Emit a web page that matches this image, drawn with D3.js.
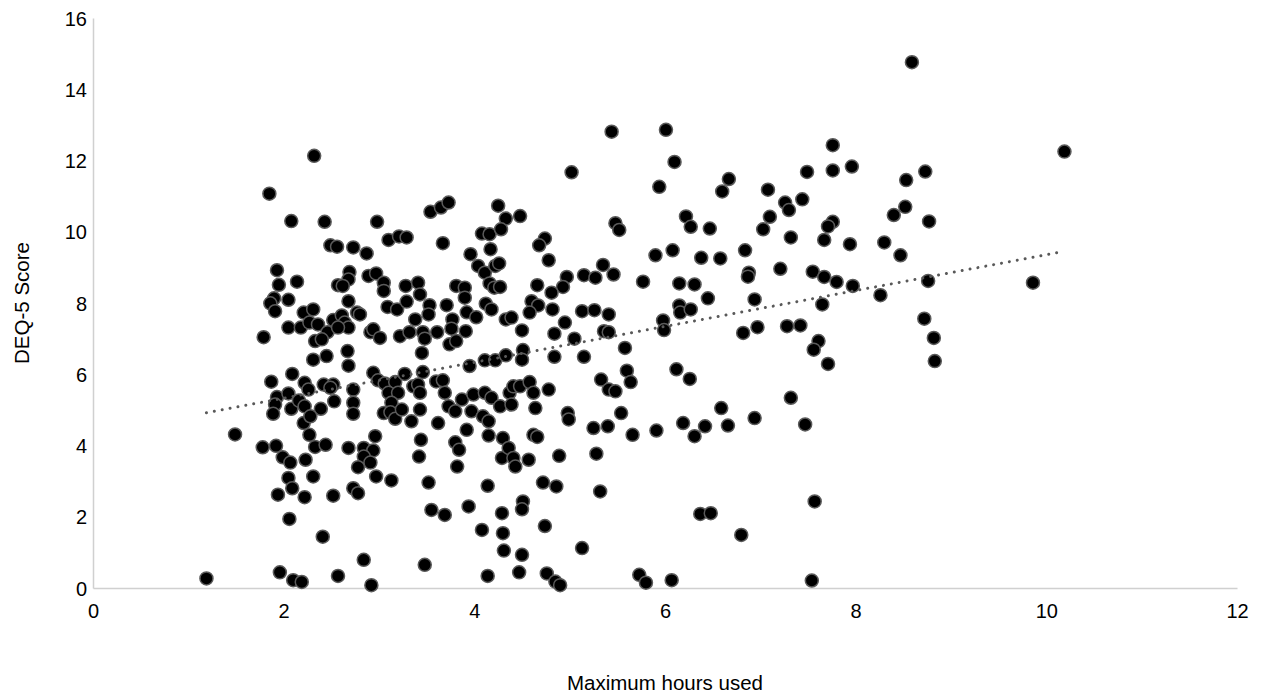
<!DOCTYPE html>
<html>
<head>
<meta charset="utf-8">
<script src="https://cdn.jsdelivr.net/npm/d3@7"></script>
<style>
  html, body { margin: 0; padding: 0; background: #fff; }
  svg { display: block; }
  text { font-family: "Liberation Sans", Arial, sans-serif; fill: #000; }
</style>
</head>
<body>
<svg id="chart" width="1268" height="695"></svg>
<script>
// ---- data ----
const xTicks = [0, 2, 4, 6, 8, 10, 12];
const yTicks = [0, 2, 4, 6, 8, 10, 12, 14, 16];
const xTitle = "Maximum hours used";
const yTitle = "DEQ-5 Score";

const hours = [
  1.85,2.08,1.93,1.95,2.14,1.90,1.86,1.91,2.05,2.21,2.05,2.18,1.79,
  1.87,2.09,1.93,1.91,1.89,2.05,2.08,2.16,2.21,1.49,1.78,1.92,1.99,2.07,2.05,2.09,1.94,2.06,1.19,1.96,2.10,
  2.32,2.43,2.98,3.10,3.21,3.29,2.49,2.56,2.73,2.87,2.69,2.68,2.57,2.62,2.89,2.97,3.05,3.05,2.68,3.09,3.19,3.29,
  2.31,2.27,2.36,2.46,2.52,2.61,2.64,2.68,2.57,2.77,2.80,2.91,2.94,3.01,3.22,2.33,2.40,2.45,2.31,2.67,2.68,
  2.94,2.99,3.06,3.17,3.27,3.10,3.20,3.13,3.05,3.12,3.17,3.24,2.22,2.22,2.26,2.42,2.52,2.49,2.53,2.39,2.28,2.27,
  2.33,2.44,2.73,2.73,2.73,2.68,2.84,2.94,2.84,2.91,2.78,2.96,2.23,2.31,2.22,2.52,2.73,2.78,2.97,3.13,2.41,2.84,
  2.57,2.19,2.92,
  3.54,3.65,3.73,4.25,4.33,3.67,4.08,4.16,4.28,4.17,3.96,4.04,4.11,4.22,4.26,4.16,4.21,4.27,3.28,3.41,3.43,3.53,
  3.38,3.52,3.46,3.48,3.32,3.71,3.81,3.90,3.90,3.92,4.02,3.77,3.76,3.61,3.91,3.74,3.81,4.12,4.18,4.33,3.45,3.95,
  4.11,4.22,4.33,
  3.46,3.36,3.41,3.43,3.34,3.43,3.60,3.67,3.69,3.73,3.80,3.87,3.97,3.99,4.11,4.18,4.27,4.09,4.15,3.62,3.92,4.15,
  3.44,3.80,3.84,3.42,3.82,4.30,4.29,4.36,3.52,4.14,3.55,3.69,3.94,4.29,4.08,4.30,4.31,3.48,4.14,
  5.44,5.02,4.48,4.74,4.68,4.78,5.48,5.52,4.97,4.93,5.15,5.27,5.35,5.46,4.66,4.81,4.60,4.67,4.58,4.82,4.39,4.50,
  4.95,4.84,5.13,5.26,5.41,5.05,5.36,5.41,4.51,4.50,4.84,5.15,5.58,
  4.37,4.41,4.48,4.58,4.62,4.78,4.64,4.39,5.33,5.41,5.48,4.98,4.99,5.25,5.40,5.54,4.41,4.43,4.57,4.62,4.66,4.89,
  5.28,4.72,4.86,5.32,4.51,4.50,4.74,4.50,5.13,4.47,4.76,4.85,4.90,
  6.01,6.10,5.94,6.67,6.60,7.08,7.76,7.49,7.76,7.96,7.26,7.30,7.44,7.10,7.03,7.32,7.76,7.71,7.67,7.94,6.22,6.27,
  6.47,5.90,6.08,6.38,6.58,6.84,6.88,6.87,7.21,7.55,7.67,7.80,7.97,5.77,6.15,6.31,6.45,6.15,6.16,6.27,5.98,5.99,
  6.94,7.65,6.82,6.97,7.28,7.42,7.61,7.56,7.71,6.12,5.60,
  5.64,6.26,5.66,5.91,6.19,6.42,6.31,6.59,6.66,6.94,7.32,7.47,7.57,6.37,6.48,6.80,5.73,5.80,6.07,7.54,
  8.59,10.19,8.73,8.53,8.52,8.40,8.77,8.30,8.47,8.26,8.76,9.86,8.72,8.82,8.83
];
const scores = [
  11.07,10.30,8.92,8.51,8.60,8.13,7.99,7.77,8.09,7.73,7.31,7.31,7.04,
  5.79,6.01,5.36,5.15,4.89,5.46,5.03,5.26,4.63,4.31,3.95,3.99,3.67,3.52,3.09,2.80,2.62,1.94,0.27,0.44,0.22,
  12.13,10.28,10.28,9.77,9.87,9.84,9.62,9.58,9.56,9.39,8.87,8.66,8.50,8.48,8.76,8.83,8.57,8.34,8.05,7.89,7.82,8.04,
  7.82,7.45,7.40,7.18,7.52,7.65,7.45,7.31,7.31,7.73,7.68,7.18,7.26,7.02,7.07,6.93,6.98,6.51,6.41,6.65,6.24,
  6.04,5.83,5.74,5.78,6.01,5.48,5.48,5.20,4.91,4.93,4.75,5.01,5.76,5.10,5.57,5.71,5.71,5.62,5.24,5.03,4.82,4.30,
  3.96,4.02,5.57,5.20,4.89,3.93,3.93,3.86,3.69,3.52,3.39,4.26,3.60,3.13,2.55,2.59,2.80,2.66,3.13,3.02,1.44,0.79,
  0.34,0.17,0.08,
  10.56,10.68,10.82,10.73,10.37,9.68,9.95,9.93,10.07,9.51,9.37,9.04,8.85,9.04,9.11,8.55,8.43,8.45,8.48,8.57,8.24,7.94,
  7.54,7.68,7.18,7.00,7.18,7.94,8.48,8.43,8.15,7.74,7.60,7.54,7.28,7.18,7.21,6.84,6.93,7.98,7.82,7.54,6.60,6.23,
  6.39,6.39,6.53,
  6.06,5.66,5.71,5.48,4.68,5.01,5.80,5.83,5.48,5.10,4.96,5.29,4.96,5.43,5.48,5.34,5.10,4.82,4.68,4.63,4.44,4.28,
  4.16,4.09,3.88,3.69,3.41,4.21,3.65,3.93,2.96,2.87,2.19,2.05,2.29,2.10,1.63,1.54,1.05,0.65,0.34,
  12.81,11.67,10.44,9.81,9.62,9.20,10.24,10.05,8.73,8.45,8.78,8.71,9.07,8.80,8.50,8.29,8.05,7.93,7.73,7.82,7.59,7.23,
  7.45,7.14,7.77,7.80,7.68,7.00,7.21,7.18,6.68,6.41,6.49,6.49,6.74,
  5.48,5.66,5.66,5.78,5.48,5.57,5.05,5.15,5.85,5.57,5.52,4.91,4.73,4.49,4.54,4.91,3.65,3.41,3.60,4.30,4.24,3.71,
  3.77,2.96,2.85,2.71,2.43,2.21,1.74,0.93,1.12,0.44,0.41,0.18,0.08,
  12.86,11.96,11.26,11.48,11.13,11.18,12.43,11.68,11.72,11.83,10.82,10.61,10.91,10.42,10.07,9.84,10.28,10.15,9.77,9.65,10.43,10.14,
  10.09,9.34,9.48,9.27,9.25,9.48,8.85,8.74,8.96,8.88,8.73,8.59,8.48,8.60,8.55,8.52,8.13,7.93,7.73,7.82,7.51,7.24,
  8.10,7.96,7.16,7.32,7.35,7.37,6.93,6.69,6.29,6.14,6.10,
  5.78,5.87,4.30,4.42,4.63,4.54,4.26,5.05,4.56,4.77,5.34,4.59,2.43,2.08,2.10,1.49,0.37,0.15,0.22,0.21,
  14.76,12.25,11.69,11.45,10.70,10.47,10.29,9.70,9.34,8.22,8.62,8.57,7.56,7.02,6.37
];

(function () {
  // ---- layout ----
  const svg = d3.select("#chart");
  const mLeft = 93, mRight = 1237, mTop = 18, mBottom = 588;

  const x = d3.scaleLinear().domain([0, 12]).range([mLeft, mRight]);
  const y = d3.scaleLinear().domain([0, 16]).range([mBottom, mTop]);

  const axisColor = "#d0d0d0";
  const font = "'Liberation Sans', Arial, sans-serif";

  // y axis
  const yAxis = svg.append("g").attr("transform", `translate(${mLeft},0)`)
    .call(d3.axisLeft(y).tickValues(yTicks).tickSize(0).tickPadding(6).tickFormat(d3.format("d")));
  yAxis.select(".domain").attr("stroke", axisColor).attr("stroke-width", 1.5);
  yAxis.selectAll("text").style("font-size", "20px").style("font-family", font).attr("fill", "#000")
    .attr("dy", "0.36em");

  // x axis
  const xAxis = svg.append("g").attr("transform", `translate(0,${mBottom})`)
    .call(d3.axisBottom(x).tickValues(xTicks).tickSize(0).tickPadding(16).tickFormat(d3.format("d")));
  xAxis.select(".domain").attr("stroke", axisColor).attr("stroke-width", 1.5);
  xAxis.selectAll("text").style("font-size", "20px").style("font-family", font).attr("fill", "#000");

  // points
  const pts = hours.map((h, i) => ({ h, s: scores[i] }));
  svg.append("g").selectAll("circle").data(pts).join("circle")
    .attr("cx", d => x(d.h))
    .attr("cy", d => y(d.s))
    .attr("r", 6.5)
    .attr("fill", "#000")
    .attr("stroke", "#5a5a5a")
    .attr("stroke-width", 1.5);

  // linear trend line (least squares over the points)
  const mx = d3.mean(pts, d => d.h), my = d3.mean(pts, d => d.s);
  const sxy = d3.sum(pts, d => (d.h - mx) * (d.s - my));
  const sxx = d3.sum(pts, d => (d.h - mx) * (d.h - mx));
  const slope = sxy / sxx, intercept = my - slope * mx;
  const [x0, x1] = d3.extent(hours);
  svg.append("line")
    .attr("x1", x(x0)).attr("y1", y(intercept + slope * x0))
    .attr("x2", x(x1)).attr("y2", y(intercept + slope * x1))
    .attr("stroke", "#595959")
    .attr("stroke-width", 3)
    .attr("stroke-linecap", "round")
    .attr("stroke-dasharray", "0.01 8");

  // axis titles
  svg.append("text")
    .attr("x", (mLeft + mRight) / 2).attr("y", 690)
    .attr("text-anchor", "middle")
    .style("font-size", "20.5px")
    .text(xTitle);

  svg.append("text")
    .attr("transform", `translate(29,${(mTop + mBottom) / 2}) rotate(-90)`)
    .attr("text-anchor", "middle")
    .style("font-size", "20.5px")
    .text(yTitle);
})();
</script>
</body>
</html>
